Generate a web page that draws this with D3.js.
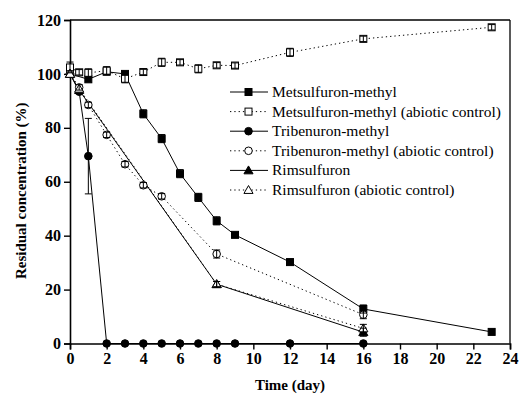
<!DOCTYPE html>
<html><head><meta charset="utf-8">
<script src="https://cdn.jsdelivr.net/npm/d3@7"></script>
<style>html,body{margin:0;padding:0;background:#fff;}svg{display:block;}</style>
</head><body>
<svg id="c" width="521" height="396"></svg>
<script>
// ---- data ----
const xTicks = [0,2,4,6,8,10,12,14,16,18,20,22,24];
const yTicks = [0,20,40,60,80,100,120];

const metDays = [0,1,2,3,4,5,6,7,8,9,12,16,23];
const metVals = [100,98,100.8,100,85.2,76,63,54.2,45.5,40.3,30.2,12.8,4.3];
const metErr  = [0,0,0,0,1.5,1.5,1.5,1.5,1.5,0,1,1.5,0];

const metAbDays = [0,0.5,1,2,3,4,5,6,7,8,9,12,16,23];
const metAbVals = [102.4,100.6,100.4,101.2,98.2,100.7,104.3,104.3,101.9,103.2,103.1,108,113,117.3];
const metAbErr  = [2,1,1.5,1.5,1.5,1,1.5,1,1.5,1,1,1.5,1,1];

const triDays = [0,0.5,1,2,3,4,5,6,7,8,9,12,16];
const triVals = [100,93.4,69.5,0,0,0,0,0,0,0,0,0,0];
const triErr  = [0,0,14,0,0,0,0,0,0,0,0,0,0];

const triAbDays = [0,0.5,1,2,3,4,5,8,16];
const triAbVals = [100,95,88.5,77.4,66.5,58.7,54.6,33.2,10.7];
const triAbErr  = [0,1,1,1,1,1,1,1.5,1.5];

const rimDays = [0,0.5,8,16];
const rimVals = [100,94,22,4.2];
const rimErr  = [0,0,1,1.5];

const rimAbDays = [0,0.5,8,16];
const rimAbVals = [100,94.5,22,5.6];
const rimAbErr  = [0,0,1,1.5];

const seriesNames = [
  "Metsulfuron-methyl",
  "Metsulfuron-methyl (abiotic control)",
  "Tribenuron-methyl",
  "Tribenuron-methyl (abiotic control)",
  "Rimsulfuron",
  "Rimsulfuron (abiotic control)"
];
const xLabel = "Time (day)";
const yLabel = "Residual concentration (%)";

// ---- build ----
function mk(days, vals, errs){ return days.map((d,i)=>({x:d,y:vals[i],e:errs[i]})); }
const series = [
  {name:seriesNames[0], data:mk(metDays,metVals,metErr), shape:"square", filled:true, dotted:false},
  {name:seriesNames[1], data:mk(metAbDays,metAbVals,metAbErr), shape:"square", filled:false, dotted:true},
  {name:seriesNames[2], data:mk(triDays,triVals,triErr), shape:"circle", filled:true, dotted:false},
  {name:seriesNames[3], data:mk(triAbDays,triAbVals,triAbErr), shape:"circle", filled:false, dotted:true},
  {name:seriesNames[4], data:mk(rimDays,rimVals,rimErr), shape:"triangle", filled:true, dotted:false},
  {name:seriesNames[5], data:mk(rimAbDays,rimAbVals,rimAbErr), shape:"triangle", filled:false, dotted:true}
];

const svg = d3.select("#c");
const x = d3.scaleLinear().domain([0,24]).range([70,510]);
const y = d3.scaleLinear().domain([0,120]).range([343.5,20]);

const numFont = "'Liberation Serif', 'Times New Roman', serif";

// frame (top and right)
svg.append("line").attr("x1",x(0)).attr("x2",x(24)).attr("y1",y(120)).attr("y2",y(120)).attr("stroke","#000").attr("stroke-width",1.3);
svg.append("line").attr("x1",x(24)).attr("x2",x(24)).attr("y1",y(120)).attr("y2",y(0)).attr("stroke","#000").attr("stroke-width",1.3);

// axes
const xAxis = svg.append("g").attr("transform",`translate(0,${y(0)})`)
  .call(d3.axisBottom(x).tickValues(xTicks).tickSize(6).tickPadding(3).tickFormat(d3.format("d")));
const yAxis = svg.append("g").attr("transform",`translate(${x(0)},0)`)
  .call(d3.axisLeft(y).tickValues(yTicks).tickSize(6).tickPadding(3).tickFormat(d3.format("d")));
[xAxis,yAxis].forEach(g=>{
  g.select(".domain").attr("stroke","#000").attr("stroke-width",1.6);
  g.selectAll(".tick line").attr("stroke","#000").attr("stroke-width",1.4);
  g.selectAll(".tick text").attr("fill","#000").style("font-family",numFont).style("font-weight","bold").style("font-size","16px");
});

// axis titles
svg.append("text").attr("x",(x(0)+x(24))/2).attr("y",390).attr("text-anchor","middle")
  .style("font-family",numFont).style("font-weight","bold").style("font-size","15px").text(xLabel);
svg.append("text").attr("transform",`translate(26,${(y(0)+y(120))/2+9}) rotate(-90)`).attr("text-anchor","middle")
  .style("font-family",numFont).style("font-weight","bold").style("font-size","15px").text(yLabel);

// markers
function marker(g, shape, filled, cx, cy){
  const fill = filled ? "#000" : "#fff";
  if(shape==="square"){
    g.append("rect").attr("x",cx-3.5).attr("y",cy-3.5).attr("width",7).attr("height",7)
      .attr("fill",fill).attr("stroke","#000").attr("stroke-width",1);
  } else if(shape==="circle"){
    g.append("circle").attr("cx",cx).attr("cy",cy).attr("r",3.8)
      .attr("fill",fill).attr("stroke","#000").attr("stroke-width",1);
  } else {
    const s = d3.symbol().type(d3.symbolTriangle).size(36);
    g.append("path").attr("d",s()).attr("transform",`translate(${cx},${cy+0.8})`)
      .attr("fill",fill).attr("stroke","#000").attr("stroke-width",1);
  }
}

const line = d3.line().x(d=>x(d.x)).y(d=>y(d.y));
const plot = svg.append("g");
series.forEach(s=>{
  plot.append("path").datum(s.data).attr("d",line).attr("fill","none")
    .attr("stroke","#000").attr("stroke-width",1)
    .attr("stroke-dasharray", s.dotted ? "1.3,3" : null);
});
series.forEach(s=>{
  s.data.forEach(d=>marker(plot, s.shape, s.filled, x(d.x), y(d.y)));
});
// error bars
series.forEach(s=>{
  s.data.filter(d=>d.e>0).forEach(d=>{
    const cx = x(d.x), y1 = y(d.y+d.e), y2 = y(d.y-d.e);
    plot.append("line").attr("x1",cx).attr("x2",cx).attr("y1",y1).attr("y2",y2).attr("stroke","#000").attr("stroke-width",1);
    [y1,y2].forEach(yy=>plot.append("line").attr("x1",cx-3.5).attr("x2",cx+3.5).attr("y1",yy).attr("y2",yy).attr("stroke","#000").attr("stroke-width",1));
  });
});

// legend
const legY0 = 92, legDy = 19.6;
const leg = svg.append("g");
series.forEach((s,i)=>{
  const ly = legY0 + i*legDy;
  leg.append("line").attr("x1",230).attr("x2",268).attr("y1",ly).attr("y2",ly)
    .attr("stroke","#000").attr("stroke-width",1).attr("stroke-dasharray", s.dotted ? "1.3,3" : null);
  marker(leg, s.shape, s.filled, 248.5, ly);
  leg.append("text").attr("x",272).attr("y",ly+5).style("font-family",numFont).style("font-size","15.5px").text(s.name);
});
</script>
</body></html>
